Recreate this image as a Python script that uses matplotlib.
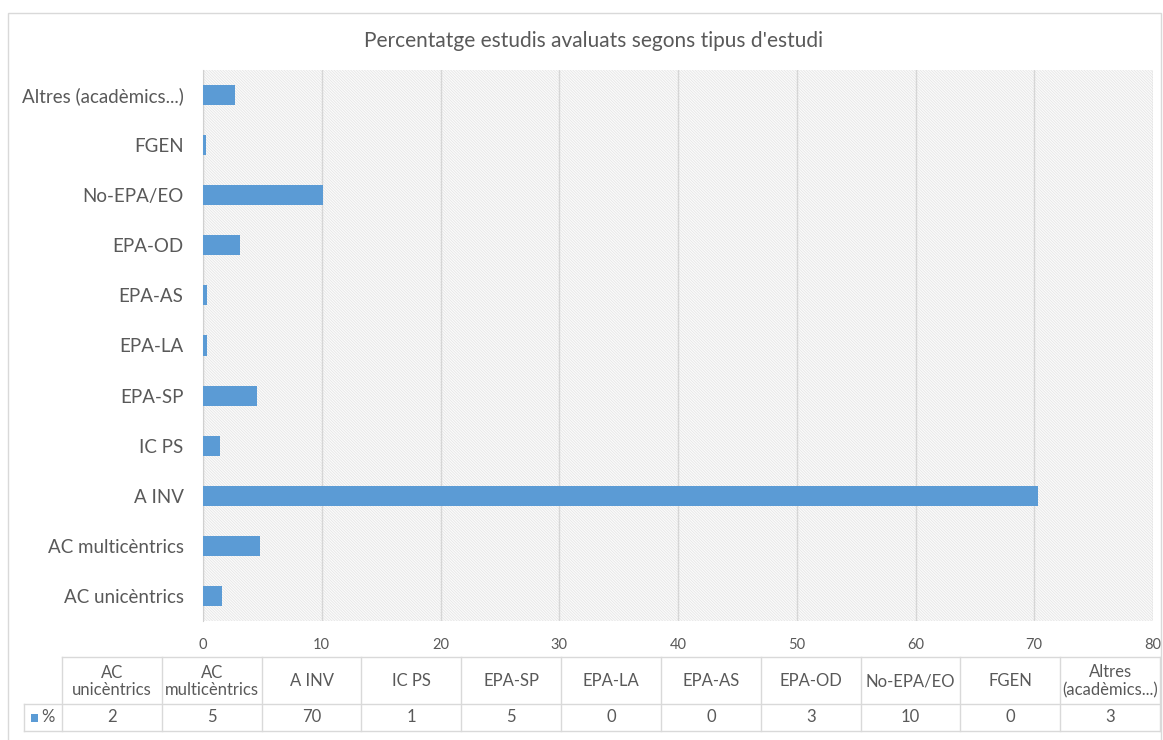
import matplotlib
matplotlib.use('Agg')
from matplotlib import pyplot as plt
from matplotlib.patches import Rectangle
from matplotlib.lines import Line2D

# dades
categories = ['AC unicèntrics', 'AC multicèntrics', 'A INV', 'IC PS', 'EPA-SP',
              'EPA-LA', 'EPA-AS', 'EPA-OD', 'No-EPA/EO', 'FGEN', 'Altres (acadèmics...)']
table_labels = ['AC\nunicèntrics', 'AC\nmulticèntrics', 'A INV', 'IC PS', 'EPA-SP',
                'EPA-LA', 'EPA-AS', 'EPA-OD', 'No-EPA/EO', 'FGEN', 'Altres\n(acadèmics...)']
valors = [1.6, 4.8, 70.3, 1.4, 4.55, 0.35, 0.35, 3.1, 10.1, 0.25, 2.7]
valors_taula = [2, 5, 70, 1, 5, 0, 0, 3, 10, 0, 3]
xticks = [0, 10, 20, 30, 40, 50, 60, 70, 80]
titol = "Percentatge estudis avaluats segons tipus d'estudi"

plt.rcParams['font.family'] = ['Lato', 'DejaVu Sans']
plt.rcParams['hatch.linewidth'] = 0.5
gris = '#595959'
blau = '#5b9bd5'
W, H = 1163, 740

fig = plt.figure(figsize=(W / 100, H / 100), dpi=100)
ax = fig.add_axes([203 / W, 1 - 621 / H, (1153 - 203) / W, (621 - 70) / H])

# fons ratllat
ax.add_patch(Rectangle((0, 0), 1, 1, transform=ax.transAxes, facecolor='#fbfbfb',
                       hatch='\\' * 12, edgecolor='#e3e3e3', lw=0, zorder=0))

y = list(range(len(categories)))
ax.barh(y, valors, height=0.4, color=blau, zorder=3)
ax.set_ylim(-0.5, len(categories) - 0.5)
ax.set_xlim(0, 80)
ax.set_xticks(xticks)
ax.set_yticks(y)
ax.set_yticklabels(categories, fontsize=13.5, color=gris)
ax.tick_params(axis='both', length=0)
ax.tick_params(axis='y', pad=14)
ax.tick_params(axis='x', labelsize=10.5, labelcolor=gris, pad=12)
for s in ['top', 'right', 'bottom']:
    ax.spines[s].set_visible(False)
ax.spines['left'].set_color('#d0d0d0')
ax.grid(axis='x', color='#d6d6d6', lw=1, zorder=1)

fig.text(593 / W, 1 - 41 / H, titol, ha='center', va='center', fontsize=15, color=gris)

# taula de dades
def fx(px):
    return px / W

def fy(py):
    return 1 - py / H

lc = '#d9d9d9'
x0, x1 = 62, 1160
top, mid, bot = 657, 704, 731
cw = (x1 - x0) / len(categories)
fig.add_artist(Line2D([fx(x0), fx(x1)], [fy(top), fy(top)], color=lc, lw=1))
fig.add_artist(Line2D([fx(24), fx(x1)], [fy(mid), fy(mid)], color=lc, lw=1))
fig.add_artist(Line2D([fx(24), fx(x1)], [fy(bot), fy(bot)], color=lc, lw=1))
fig.add_artist(Line2D([fx(24), fx(24)], [fy(mid), fy(bot)], color=lc, lw=1))
for i in range(len(categories) + 1):
    xx = x0 + i * cw
    fig.add_artist(Line2D([fx(xx), fx(xx)], [fy(top), fy(bot)], color=lc, lw=1))
for i, (lab, v) in enumerate(zip(table_labels, valors_taula)):
    cx = x0 + (i + 0.5) * cw
    fig.text(fx(cx), fy((top + mid) / 2 + 1), lab, ha='center', va='center',
             fontsize=12, color=gris, linespacing=1.15)
    fig.text(fx(cx), fy((mid + bot) / 2), str(v), ha='center', va='center',
             fontsize=12, color=gris)
fig.add_artist(Rectangle((fx(31), fy(722)), 7 / W, 8 / H, facecolor=blau, lw=0))
fig.text(fx(41), fy(717.5), '%', ha='left', va='center', fontsize=12, color=gris)

# vora exterior
fig.add_artist(Rectangle((fx(8), fy(745)), (1161 - 8) / W, (745 - 13) / H,
                         fill=False, edgecolor='#d9d9d9', lw=1))

fig.savefig('out.png', dpi=100)
